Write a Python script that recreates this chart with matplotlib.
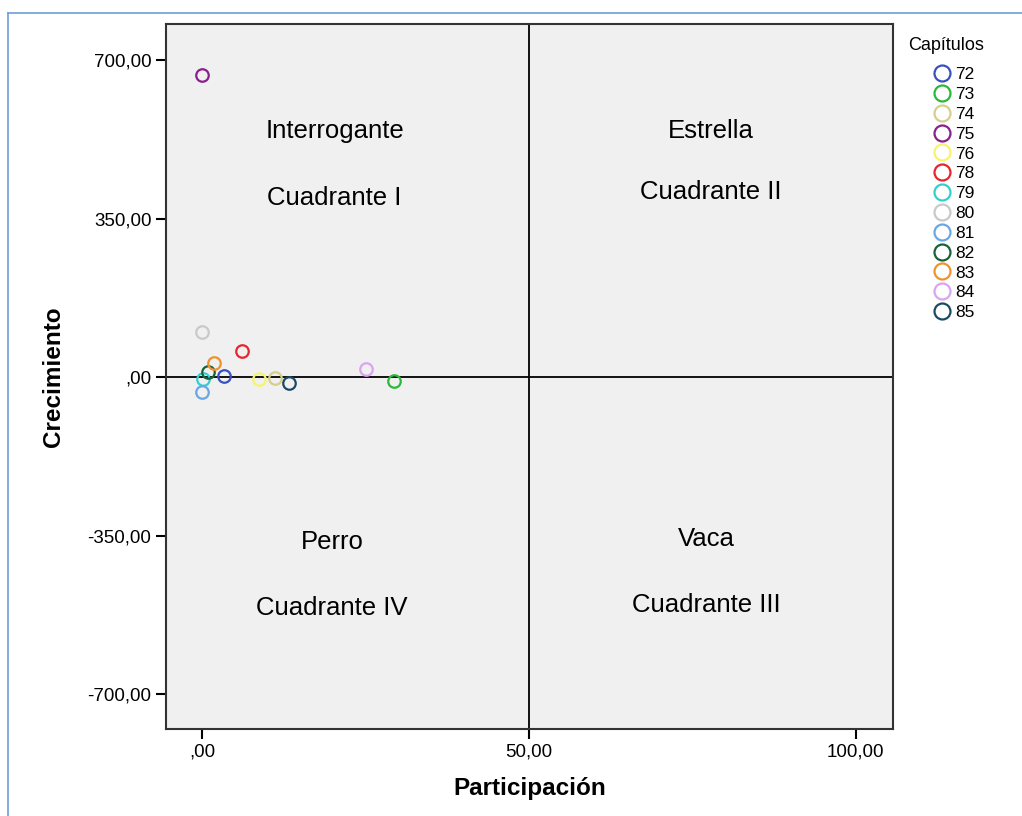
import matplotlib
matplotlib.use('Agg')
import matplotlib.pyplot as plt
from matplotlib.lines import Line2D

plt.rcParams['font.family'] = ['Liberation Sans', 'DejaVu Sans']

#### Datos ####
capitulos = ['72', '73', '74', '75', '76', '78', '79', '80', '81', '82', '83', '84', '85']
participacion = [3.4, 29.3, 11.2, 0.0, 8.7, 6.2, 0.1, 0.0, 0.0, 0.9, 1.9, 25.1, 13.3]
crecimiento = [2, -9.5, -1.5, 667, -3, 58, -5, 100, -32, 11.7, 31.6, 17, -12.6]
colores = ['#3a4fc0', '#2cb83a', '#d6cf8c', '#8a1f8e', '#f6f36c', '#e6262c',
           '#33cfd0', '#c9c9c9', '#6aa6e6', '#19613a', '#f0922c', '#d9a4f2', '#1b4a66']

x_ticks = [0, 50, 100]
x_ticklabels = [',00', '50,00', '100,00']
y_ticks = [700, 350, 0, -350, -700]
y_ticklabels = ['700,00', '350,00', ',00', '-350,00', '-700,00']

cuadrantes = [
    (20.3, 543, 'Interrogante'), (20.3, 395, 'Cuadrante I'),
    (77.8, 543, 'Estrella'), (77.8, 408, 'Cuadrante II'),
    (19.9, -364, 'Perro'), (19.9, -510, 'Cuadrante IV'),
    (77.1, -358, 'Vaca'), (77.1, -503, 'Cuadrante III'),
]

#### Figura ####
fig = plt.figure(figsize=(10.22, 8.16), dpi=100)
ax = fig.add_axes([0.1624, 0.1066, 0.7114, 0.864])
ax.set_facecolor('#f0f0f0')

for xi, yi, c in zip(participacion, crecimiento, colores):
    ax.plot(xi, yi, 'o', markersize=9, markerfacecolor='none',
            markeredgecolor=c, markeredgewidth=1.6, zorder=3)

ax.axhline(0, color='black', linewidth=1.3, zorder=2)
ax.axvline(50, color='black', linewidth=1.3, zorder=2)

for xi, yi, t in cuadrantes:
    ax.text(xi, yi, t, fontsize=18.5, ha='center', va='center')

ax.set_xlim(-5.5, 105.7)
ax.set_ylim(-777, 780)
ax.set_xticks(x_ticks)
ax.set_xticklabels(x_ticklabels)
ax.set_yticks(y_ticks)
ax.set_yticklabels(y_ticklabels)
ax.tick_params(direction='out', length=7, width=1.5, labelsize=13.5, colors='black')
for s in ax.spines.values():
    s.set_linewidth(1.5)
    s.set_color('#333333')

ax.set_xlabel('Participación', fontsize=17.5, fontweight='bold', labelpad=12)
ax.set_ylabel('Crecimiento', fontsize=17.5, fontweight='bold', labelpad=16)

# leyenda
fig.text(908 / 1022, 1 - 45 / 816, 'Capítulos', fontsize=13, ha='left', va='center')
handles = [Line2D([], [], marker='o', linestyle='none', markersize=11.5,
                  markerfacecolor='none', markeredgecolor=c, markeredgewidth=1.6)
           for c in colores]
fig.legend(handles, capitulos, loc='upper left',
           bbox_to_anchor=(933 / 1022, 1 - 67 / 816), frameon=False, fontsize=12.5,
           labelspacing=0.27, handletextpad=0.27, handlelength=1.0,
           borderaxespad=0, borderpad=0)

# borde azul (solo arriba e izquierda visibles)
fig.add_artist(Line2D([0.008, 0.008], [0, 0.984], transform=fig.transFigure,
                      color='#6a9fd8', linewidth=1.2))
fig.add_artist(Line2D([0.008, 1], [0.984, 0.984], transform=fig.transFigure,
                      color='#6a9fd8', linewidth=1.2))

fig.savefig('out.png', dpi=100)
